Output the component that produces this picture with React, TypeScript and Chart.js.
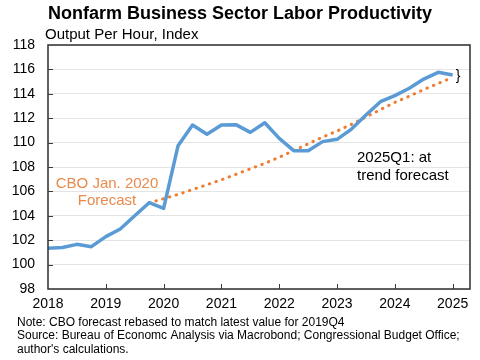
import React, { useEffect, useRef } from "react";
import { Chart, registerables } from "chart.js";

Chart.register(...registerables);

const quarters = [
  "2018Q1", "2018Q2", "2018Q3", "2018Q4",
  "2019Q1", "2019Q2", "2019Q3", "2019Q4",
  "2020Q1", "2020Q2", "2020Q3", "2020Q4",
  "2021Q1", "2021Q2", "2021Q3", "2021Q4",
  "2022Q1", "2022Q2", "2022Q3", "2022Q4",
  "2023Q1", "2023Q2", "2023Q3", "2023Q4",
  "2024Q1", "2024Q2", "2024Q3", "2024Q4",
  "2025Q1",
];

const productivity = [
  101.35, 101.4, 101.66, 101.47,
  102.29, 102.92, 104.0, 105.07,
  104.6, 109.75, 111.44, 110.68,
  111.44, 111.47, 110.84, 111.63,
  110.35, 109.34, 109.34, 110.08,
  110.27, 111.11, 112.26, 113.35,
  113.85, 114.45, 115.21, 115.76,
  115.54,
];

const cboForecast = [
  null, null, null, null,
  null, null, null, 105.07,
  105.4, 105.75, 106.15, 106.55,
  106.95, 107.4, 107.85, 108.3,
  108.8, 109.35, 109.9, 110.45,
  110.95, 111.5, 112.1, 112.7,
  113.3, 113.8, 114.35, 114.85,
  115.35,
];

const xTickYears = [2018, 2019, 2020, 2021, 2022, 2023, 2024, 2025];
const yTicks = [98, 100, 102, 104, 106, 108, 110, 112, 114, 116, 118];

const titleText = "Nonfarm Business Sector Labor Productivity";
const subtitleText = "Output Per Hour, Index";
const cboLabel = ["CBO Jan. 2020", "Forecast"];
const trendLabel = ["2025Q1: at", "trend forecast"];
const footnotes = [
  "Note: CBO forecast rebased to match latest value for 2019Q4",
  "Source: Bureau of Economc Analysis via Macrobond; Congressional Budget Office;",
  "author's calculations.",
];

const FONT = "'Liberation Sans', Arial, sans-serif";
const BLUE = "#5B9BD5";
const ORANGE = "#ED7D31";
const ORANGE_TEXT = "#E98A4C";
const FRAME = "#3A3A3A";

const qToX = (q: string) => parseInt(q.slice(0, 4), 10) + (parseInt(q.slice(5), 10) - 1) / 4;

export default function App() {
  const ref = useRef<HTMLCanvasElement | null>(null);

  useEffect(() => {
    document.body.style.margin = "0";
    const canvas = ref.current;
    if (!canvas) return;

    const decorPlugin = {
      id: "decor",
      afterDraw(chart: any) {
        const ctx = chart.ctx as CanvasRenderingContext2D;
        const xs = chart.scales.x;
        const ys = chart.scales.y;
        const L = Math.round(xs.getPixelForValue(xs.min));
        const R = Math.round(xs.getPixelForValue(xs.max));
        const T = Math.round(ys.getPixelForValue(ys.max));
        const B = Math.round(ys.getPixelForValue(ys.min));
        ctx.save();
        ctx.globalAlpha = 1;
        ctx.globalCompositeOperation = "source-over";
        ctx.setLineDash([]);
        ctx.strokeStyle = FRAME;
        // frame
        ctx.lineWidth = 1.6;
        ctx.strokeRect(L, T, R - L, B - T);
        // inward ticks
        ctx.lineWidth = 1;
        ctx.beginPath();
        yTicks.forEach((v) => {
          if (v === yTicks[0] || v === yTicks[yTicks.length - 1]) return;
          const y = Math.round(ys.getPixelForValue(v)) + 0.5;
          ctx.moveTo(L, y);
          ctx.lineTo(L + 5, y);
        });
        xTickYears.forEach((v, i) => {
          if (i === 0) return;
          const x = Math.round(xs.getPixelForValue(v)) + 0.5;
          ctx.moveTo(x, B);
          ctx.lineTo(x, B - 5);
        });
        ctx.stroke();

        // title & subtitle
        ctx.fillStyle = "#000";
        ctx.textBaseline = "middle";
        ctx.textAlign = "center";
        ctx.font = `bold 18px ${FONT}`;
        ctx.fillText(titleText, 240, 14);
        ctx.textAlign = "left";
        ctx.font = `15px ${FONT}`;
        ctx.fillText(subtitleText, 45, 35);

        // annotations
        ctx.font = `15px ${FONT}`;
        ctx.fillStyle = ORANGE_TEXT;
        ctx.textAlign = "center";
        ctx.fillText(cboLabel[0], 107, 184);
        ctx.fillText(cboLabel[1], 107, 201);
        ctx.fillStyle = "#000";
        ctx.textAlign = "left";
        ctx.fillText(trendLabel[0], 357, 158);
        ctx.fillText(trendLabel[1], 357, 176);

        // bracket
        ctx.font = `14px ${FONT}`;
        const lastX = xs.getPixelForValue(qToX(quarters[quarters.length - 1]));
        const yb = (ys.getPixelForValue(productivity[productivity.length - 1]) +
          ys.getPixelForValue(cboForecast[cboForecast.length - 1] as number)) / 2;
        ctx.fillText("}", lastX + 3, yb);

        // footnotes
        ctx.font = `12px ${FONT}`;
        ctx.fillText(footnotes[0], 17, 323);
        ctx.fillText(footnotes[1], 17, 336);
        ctx.fillText(footnotes[2], 17, 350);
        ctx.restore();
      },
    };

    const chart = new Chart(canvas, {
      type: "line",
      data: {
        datasets: [
          {
            label: "Productivity",
            data: quarters.map((q, i) => ({ x: qToX(q), y: productivity[i] })),
            borderColor: BLUE,
            borderWidth: 3.5,
            pointRadius: 0,
            tension: 0,
            borderJoinStyle: "round",
          },
          {
            label: "CBO",
            data: quarters
              .map((q, i) => ({ x: qToX(q), y: cboForecast[i] }))
              .filter((p) => p.y !== null) as any,
            borderColor: ORANGE,
            borderWidth: 3,
            borderDash: [0.5, 6.5],
            borderCapStyle: "round",
            pointRadius: 0,
            tension: 0,
          },
        ],
      },
      options: {
        responsive: false,
        animation: false,
        devicePixelRatio: 1,
        layout: { padding: { top: 45, right: 10, left: 0, bottom: 0 } },
        plugins: {
          legend: { display: false },
          tooltip: { enabled: false },
          title: { display: false },
        },
        scales: {
          x: {
            type: "linear",
            min: 2018,
            max: 2025.3,
            afterBuildTicks: (s: any) => {
              s.ticks = xTickYears.map((v) => ({ value: v }));
            },
            afterFit: (s: any) => {
              s.height = 71;
            },
            grid: { display: false, drawTicks: false },
            border: { display: false },
            ticks: {
              padding: 7,
              color: "#000",
              font: { family: FONT, size: 14 },
              maxRotation: 0,
              autoSkip: false,
              callback: (v: any) => String(v),
            },
          },
          y: {
            min: 98,
            max: 118,
            afterBuildTicks: (s: any) => {
              s.ticks = yTicks.map((v) => ({ value: v }));
            },
            afterFit: (s: any) => {
              s.width = 48;
            },
            grid: { color: "#E4E4E4", drawTicks: false },
            border: { display: false },
            ticks: {
              padding: 13,
              color: "#000",
              font: { family: FONT, size: 14 },
              callback: (v: any) => String(v),
            },
          },
        },
      },
      plugins: [decorPlugin],
    } as any);

    return () => chart.destroy();
  }, []);

  return (
    <div style={{ width: 480, height: 360, background: "#fff" }}>
      <canvas ref={ref} width={480} height={360} />
    </div>
  );
}
